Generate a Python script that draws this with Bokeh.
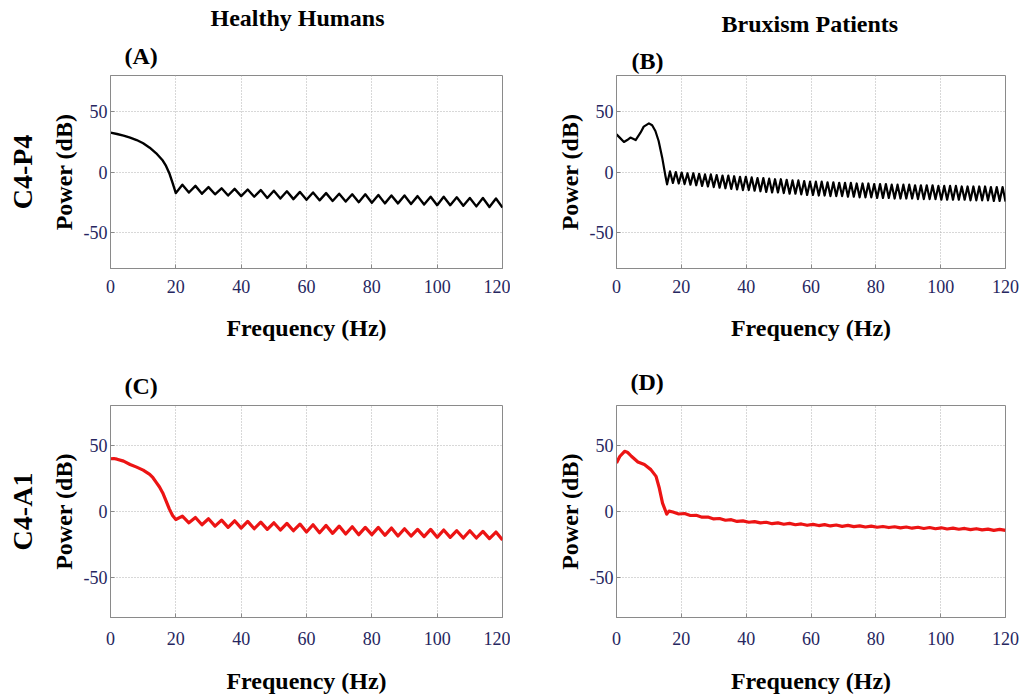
from bokeh.plotting import figure
from bokeh.layouts import gridplot
from bokeh.models import Range1d, FixedTicker, LinearAxis, Title
from bokeh.embed import file_html
from bokeh.resources import INLINE

# ---------------- data ----------------
x_ticks = [0, 20, 40, 60, 80, 100, 120]
y_ticks = [-50, 0, 50]
y_tick_labels = {-50: "-50", 0: "0", 50: "50"}

# (A) Healthy, C4-P4
A_head_f = [0, 2, 4, 6, 8, 10, 12, 14, 16, 17, 18, 19]
A_head_v = [32.6, 31.5, 30.2, 28.5, 26.5, 23.8, 20.2, 15.5, 9.5, 5, -1, -9]
A_peak_f = [22, 26, 30, 34, 38, 42, 46, 50, 54, 58, 62, 66, 70, 74, 78, 82, 86, 90, 94, 98, 102, 106, 110, 114, 118]
A_peak_v = [-10.5, -11.5, -12.5, -13.5, -14, -14.5, -15, -15.5, -16, -16.5, -17, -17.5, -18, -18.5, -18.5,
            -19, -19.5, -19.5, -20, -20.5, -20.5, -21, -21.5, -21.5, -22]
A_trough_f = [20, 24, 28, 32, 36, 40, 44, 48, 52, 56, 60, 64, 68, 72, 76, 80, 84, 88, 92, 96, 100, 104, 108, 112, 116, 120]
A_trough_v = [-17.5, -17, -18, -18.5, -19.5, -20, -20.5, -21.5, -22, -22.5, -23, -23.5, -24, -24.5, -25,
              -25.5, -26, -26, -26.5, -27, -27.5, -27.5, -28, -28.5, -29, -29.5]

# (C) Healthy, C4-A1
C_head_f = [0, 1, 2, 4, 6, 8, 10, 12, 13, 14, 15, 16, 17, 18, 19]
C_head_v = [39.8, 40, 39.5, 38, 35.5, 33.5, 31.2, 28, 25.5, 22, 18.5, 14, 8, 2, -3]
C_peak_f = A_peak_f
C_peak_v = [-3.5, -4.5, -5.5, -6.5, -7, -7.5, -8, -8.5, -9, -9.5, -10, -10.5, -11, -11.5, -12,
            -12, -12.5, -13, -13.5, -13.5, -14, -14.5, -14.5, -15, -15.5]
C_trough_f = A_trough_f
C_trough_v = [-6, -8.5, -10, -11, -12, -12.5, -13, -13.5, -14, -14.5, -15.5, -16, -16.5, -17, -17.5,
              -17.5, -18, -18.5, -18.5, -19, -19.5, -19.5, -20, -20, -20.5, -21.5]

# (B) Bruxism, C4-P4
B_head_f = [0, 1, 2.3, 3.3, 4.3, 5.9, 7.4, 8.4, 10, 11, 12, 13, 14.1, 15.1, 15.6]
B_head_v = [31.2, 28.5, 24.9, 26.5, 28.5, 26.5, 32.6, 37.6, 40.3, 38.7, 34, 25.7, 11.9, -3.3, -10.2]
B_peak_f = [16.5, 18.3, 20.1, 21.9, 23.7, 25.5, 27.3, 29.1, 30.9, 32.7, 34.5, 36.3, 38.1, 39.9, 41.7,
            43.5, 45.3, 47.1, 48.9, 50.7, 52.5, 54.3, 56.1, 57.9, 59.7, 61.5, 63.3, 65.1, 66.9, 68.7,
            70.5, 72.3, 74.1, 75.9, 77.7, 79.5, 81.3, 83.1, 84.9, 86.7, 88.5, 90.3, 92.1, 93.9, 95.7,
            97.5, 99.3, 101.1, 102.9, 104.7, 106.5, 108.3, 110.1, 111.9, 113.7, 115.5, 117.3, 119.1]
B_peak_v = [0.5, 0, -0.5, -1, -1, -1.5, -2, -2, -2.5, -3, -3, -3.5, -4, -4, -4.5,
            -5, -5, -5.5, -6, -6, -6.5, -7, -7, -7.5, -8, -8, -8, -8.5, -8.5, -9,
            -9, -9, -9.5, -9.5, -9.5, -10, -10, -10, -10.5, -10.5, -10.5, -10.5, -11, -11, -11,
            -11, -11.5, -11.5, -11.5, -11.5, -12, -12, -12, -12, -12, -12.5, -12.5, -12.5]
B_trough_f = [17.4, 19.2, 21.0, 22.8, 24.6, 26.4, 28.2, 30.0, 31.8, 33.6, 35.4, 37.2, 39.0, 40.8, 42.6,
              44.4, 46.2, 48.0, 49.8, 51.6, 53.4, 55.2, 57.0, 58.8, 60.6, 62.4, 64.2, 66.0, 67.8, 69.6,
              71.4, 73.2, 75.0, 76.8, 78.6, 80.4, 82.2, 84.0, 85.8, 87.6, 89.4, 91.2, 93.0, 94.8, 96.6,
              98.4, 100.2, 102.0, 103.8, 105.6, 107.4, 109.2, 111.0, 112.8, 114.6, 116.4, 118.2, 120.0]
B_trough_v = [-9, -9.5, -10, -10.5, -11, -11.5, -12, -12.5, -13, -13.5, -14, -14.5, -15, -15, -15.5,
              -16, -16.5, -17, -17, -17.5, -18, -18, -18.5, -19, -19, -19.5, -19.5, -20, -20, -20,
              -20.5, -20.5, -21, -21, -21, -21.5, -21.5, -21.5, -22, -22, -22, -22, -22.5, -22.5, -22.5,
              -22.5, -23, -23, -23, -23, -23, -23.5, -23.5, -23.5, -23.5, -24, -24, -24.5]

# (D) Bruxism, C4-A1
D_head_f = [0, 1, 2.5, 3.5, 4.6, 6.6, 8.6, 10.6, 12.2, 13.2, 14.2, 15.5, 16.2]
D_head_v = [36.6, 41.5, 45.4, 44.5, 41.7, 37.4, 35.4, 31.6, 26.5, 17.7, 6.3, -2, 0.3]
D_tail_f = B_trough_f
D_tail_v = [-0.4, -1.9, -1.5, -3.0, -2.9, -4.3, -4.2, -5.6, -5.3, -6.6, -6.2, -7.5, -7.1, -8.1, -7.6,
            -8.6, -8.1, -9.2, -8.6, -9.6, -9.0, -10.0, -9.4, -10.4, -9.7, -10.6, -9.9, -10.9, -10.2, -11.2,
            -10.5, -11.4, -10.8, -11.7, -11.0, -11.9, -11.3, -12.1, -11.5, -12.4, -11.7, -12.6, -11.9, -12.8, -12.1,
            -13.0, -12.3, -13.2, -12.6, -13.4, -12.8, -13.7, -13.0, -13.9, -13.3, -14.2, -13.5, -14.3]

column_titles = ["Healthy Humans", "Bruxism Patients"]
row_titles = ["C4-P4", "C4-A1"]
panel_tags = ["(A)", "(B)", "(C)", "(D)"]

FONT = "Liberation Serif"
TICK_COLOR = "#262660"
FRAME_COLOR = "#8a8a8a"
BLACK = "#000000"
RED = "#ec1414"


def merge(head_f, head_v, *pairs):
    pts = []
    for f, v in pairs:
        pts.extend(zip(f, v))
    pts.sort(key=lambda t: t[0])
    return list(head_f) + [p[0] for p in pts], list(head_v) + [p[1] for p in pts]


def panel(width, height, lb, rb, tb, bb, tick_standoff, xlab_standoff, ylab_standoff):
    p = figure(width=width, height=height, x_range=Range1d(0, 120), y_range=Range1d(-80, 80),
               output_backend="svg", toolbar_location=None,
               min_border_left=lb, min_border_right=rb, min_border_top=tb, min_border_bottom=bb)
    p.background_fill_color = "white"
    p.border_fill_color = "white"
    p.outline_line_color = FRAME_COLOR
    p.outline_line_width = 1
    p.xaxis.ticker = FixedTicker(ticks=x_ticks)
    p.yaxis.ticker = FixedTicker(ticks=y_ticks)
    p.yaxis.major_label_overrides = y_tick_labels
    for ax in (p.xaxis[0], p.yaxis[0]):
        ax.axis_line_color = FRAME_COLOR
        ax.major_tick_line_color = FRAME_COLOR
        ax.major_tick_in = 4
        ax.major_tick_out = 0
        ax.minor_tick_line_color = None
        ax.major_label_text_font = FONT
        ax.major_label_text_font_size = "18px"
        ax.major_label_text_color = TICK_COLOR
        ax.axis_label_text_font = FONT
        ax.axis_label_text_font_style = "bold"
        ax.axis_label_text_color = "black"
    p.xaxis.axis_label = "Frequency (Hz)"
    p.xaxis.axis_label_text_font_size = "24px"
    p.xaxis.major_label_standoff = tick_standoff
    p.xaxis.axis_label_standoff = xlab_standoff
    p.yaxis.axis_label = "Power (dB)"
    p.yaxis.axis_label_text_font_size = "24px"
    p.yaxis.major_label_standoff = 3
    p.yaxis.axis_label_standoff = ylab_standoff
    p.grid.grid_line_color = "#b0b0b0"
    p.grid.grid_line_dash = "1 2"
    p.grid.grid_line_width = 1
    return p


def add_title(p, text, size, align, offset, standoff):
    p.add_layout(Title(text=text, text_font=FONT, text_font_size=size, text_font_style="bold",
                       text_color="black", align=align, offset=offset, standoff=standoff), "above")


def add_row_label(p, text, standoff):
    ax = LinearAxis(ticker=FixedTicker(ticks=[]), axis_label=text, axis_line_color=None,
                    major_tick_line_color=None, minor_tick_line_color=None,
                    major_tick_out=0, major_tick_in=0, major_label_standoff=0,
                    axis_label_standoff=standoff, axis_label_text_font=FONT,
                    axis_label_text_font_size="28px", axis_label_text_font_style="bold",
                    axis_label_text_color="black")
    p.add_layout(ax, "left")


# top row frames: y 75..268 ; bottom row frames: y 405..617
pA = panel(510, 344, 110, 8, 75, 76, 11, 19, 4)
pB = panel(510, 344, 106, 15, 75, 76, 11, 19, 4)
pC = panel(510, 352, 110, 8, 61, 79, 14, 20, 4)
pD = panel(510, 352, 106, 15, 61, 79, 14, 20, 4)

xa, ya = merge(A_head_f, A_head_v, (A_peak_f, A_peak_v), (A_trough_f, A_trough_v))
xb, yb = merge(B_head_f, B_head_v, (B_peak_f, B_peak_v), (B_trough_f, B_trough_v))
xc, yc = merge(C_head_f, C_head_v, (C_peak_f, C_peak_v), (C_trough_f, C_trough_v))
xd, yd = merge(D_head_f, D_head_v, (D_tail_f, D_tail_v))

pA.line(xa, ya, line_color=BLACK, line_width=2.4, line_join="round")
pB.line(xb, yb, line_color=BLACK, line_width=2.2, line_join="round")
pC.line(xc, yc, line_color=RED, line_width=3.2, line_join="round")
pD.line(xd, yd, line_color=RED, line_width=3.2, line_join="round")

# panel tags (nearest the frame), then column titles above them
add_title(pA, panel_tags[0], "24px", "left", 14, 14)
add_title(pB, panel_tags[1], "24px", "left", 15, 4)
add_title(pC, panel_tags[2], "24px", "left", 14, 14)
add_title(pD, panel_tags[3], "24px", "left", 14, 21)
add_title(pA, column_titles[0], "24px", "left", 100, 5)
add_title(pB, column_titles[1], "24px", "left", 105, 14)

add_row_label(pA, row_titles[0], 10)
add_row_label(pC, row_titles[1], 10)

grid = gridplot([[pA, pB], [pC, pD]], toolbar_location=None)

open("out.html", "w").write(file_html(grid, INLINE))
